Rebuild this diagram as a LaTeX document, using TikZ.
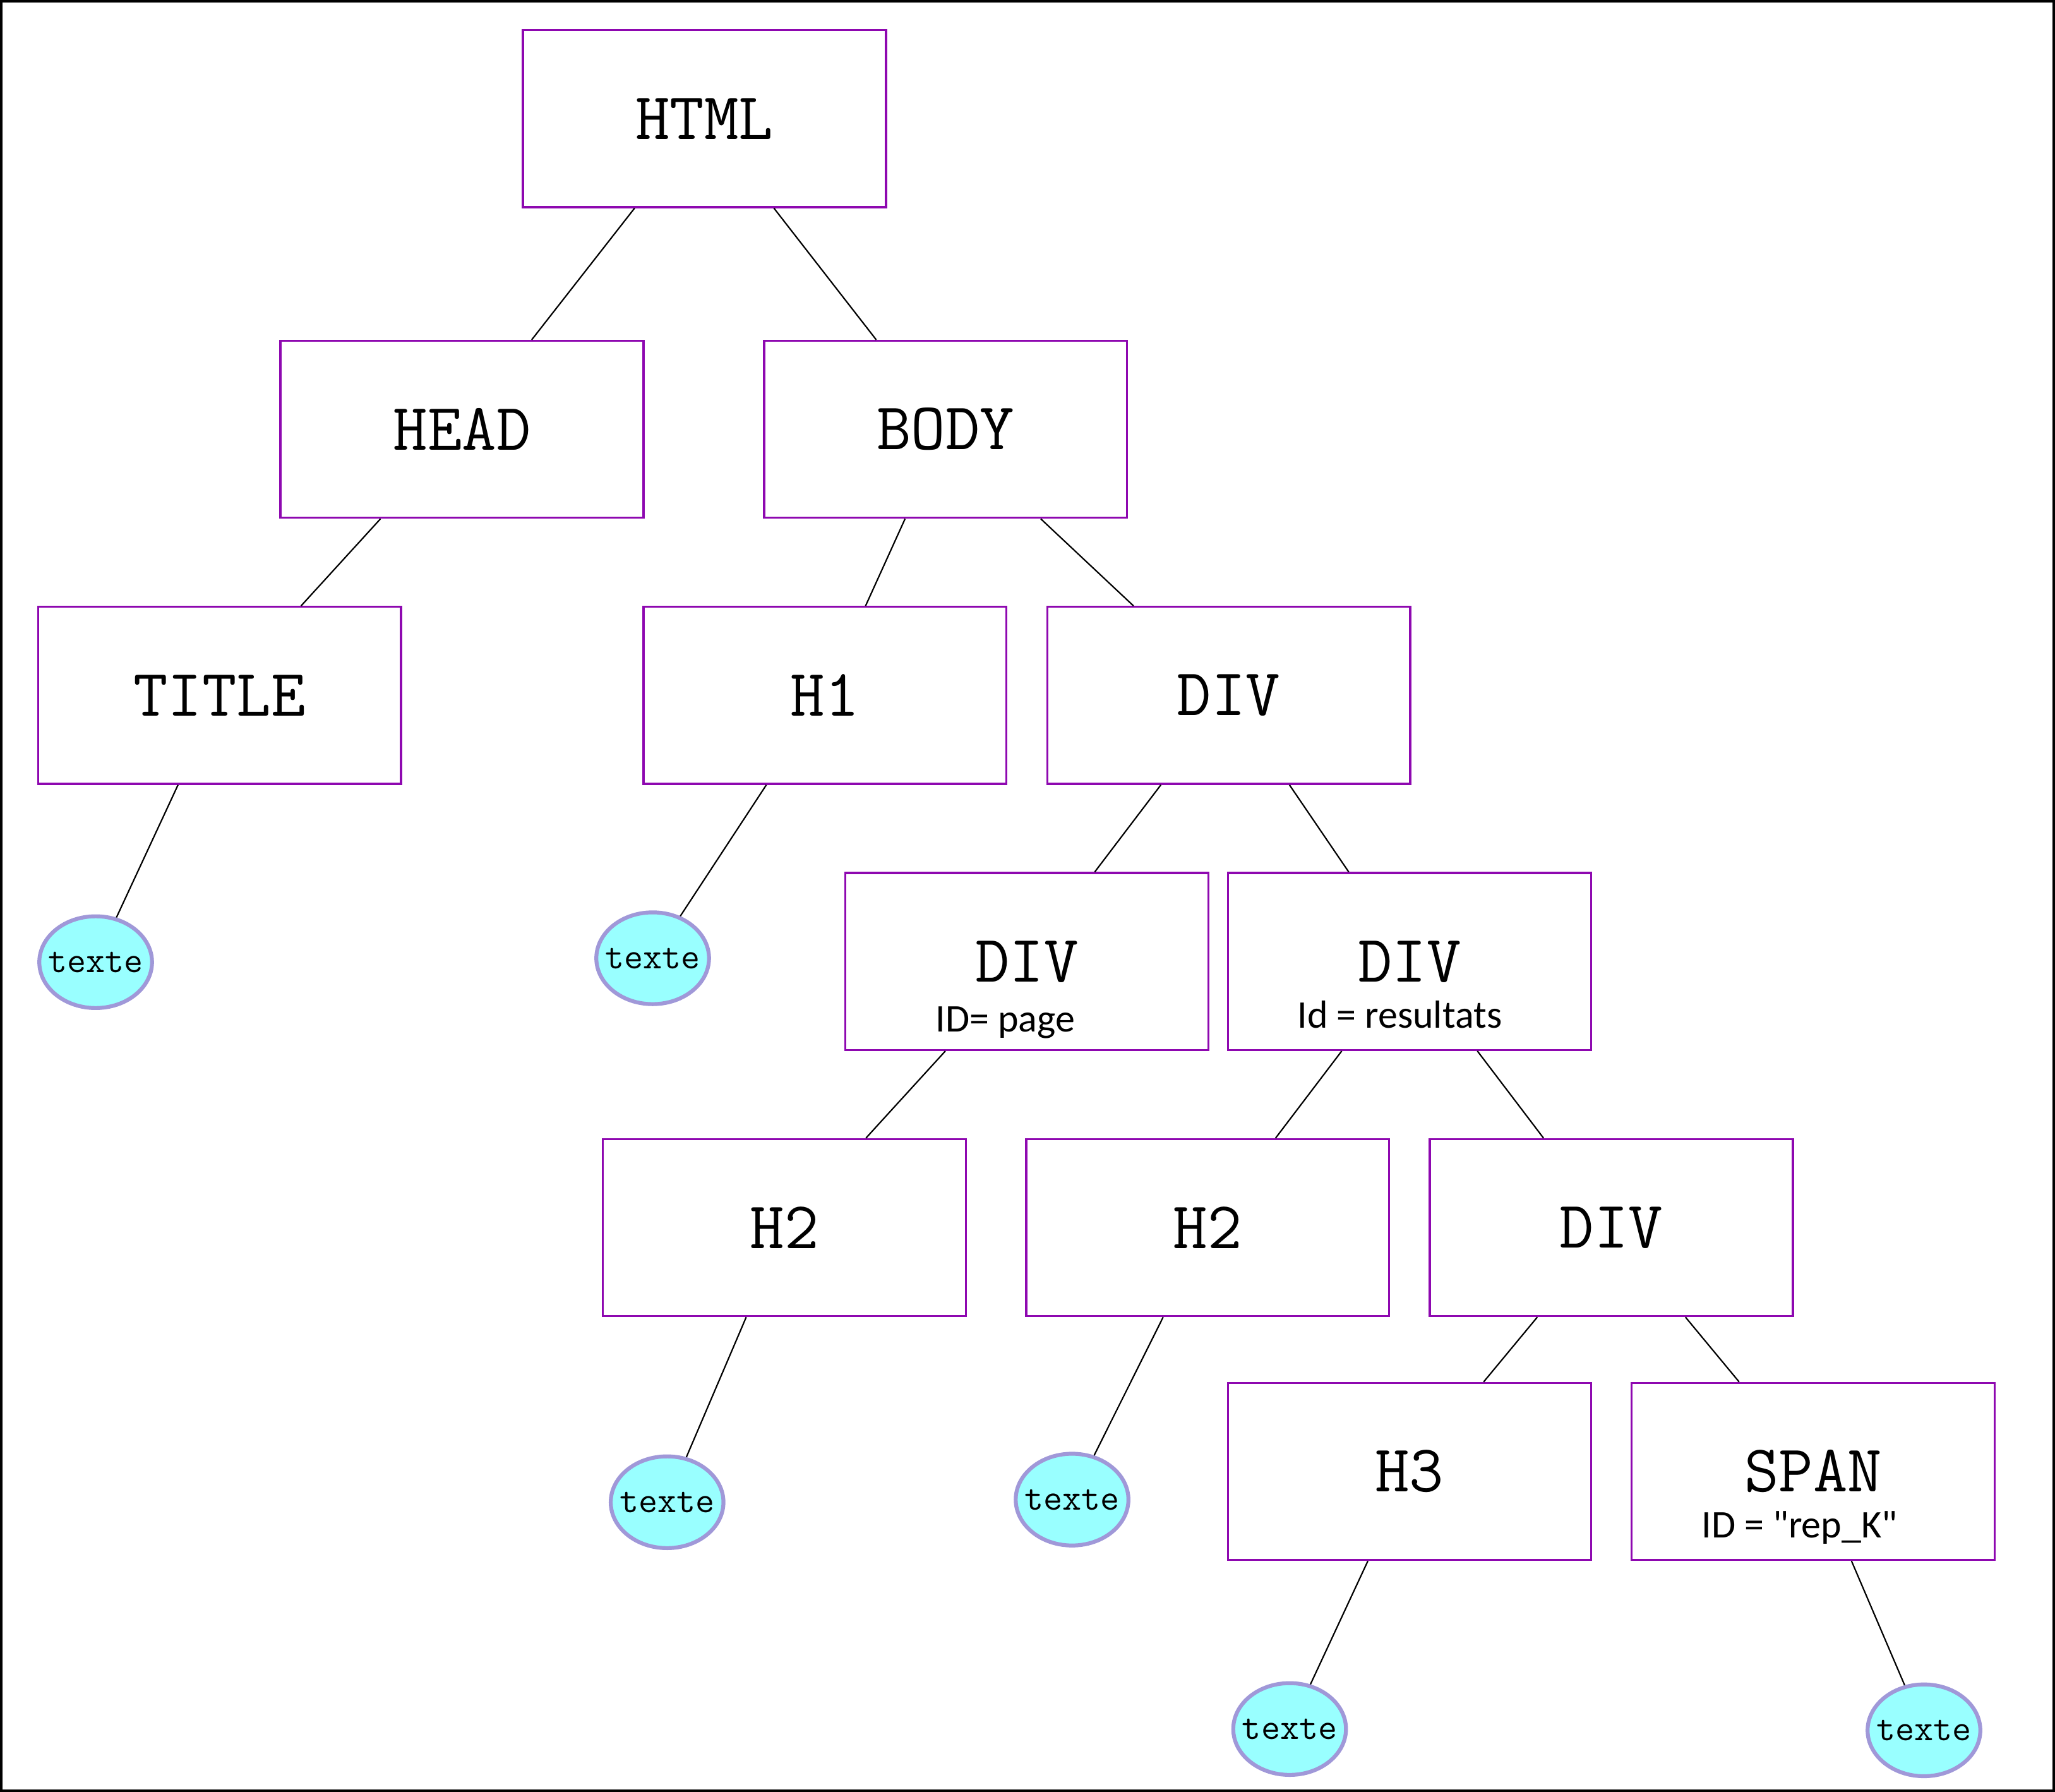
\documentclass[tikz,border=0pt]{standalone}
\usepackage{fontspec}
\newfontfamily\carlito{Carlito}
\usetikzlibrary{shapes.geometric}
\definecolor{boxviolet}{RGB}{142,8,176}
\definecolor{textefill}{RGB}{153,255,255}
\definecolor{texteline}{RGB}{160,152,216}

\begin{document}
\begin{tikzpicture}[x=0.2mm,y=-0.2mm,
    balise/.style={draw=boxviolet,line width=0.9pt,minimum width=55.4mm,minimum height=27mm,font=\fontsize{29}{31}\selectfont\ttfamily},
    texte/.style={ellipse,draw=texteline,fill=textefill,line width=1.7pt,minimum width=17.2mm,minimum height=14mm,inner sep=-1.6mm,font=\fontsize{16}{18}\selectfont\ttfamily},
    ident/.style={anchor=base,font=\fontsize{17}{20}\selectfont\carlito},
    lien/.style={line width=0.6pt}]
    \useasboundingbox (0,0) rectangle (1568,1367);
    \draw[line width=0.4mm] (1,1) rectangle (1567,1366);

    \node[balise] (html) at (537.5,90.5) {HTML};
    \node[balise] (head) at (352.5,327.5) {HEAD};
    \node[balise] (body) at (721.5,327.5) {BODY};
    \node[balise] (title) at (167.5,530.5) {TITLE};
    \node[balise] (h1) at (629.5,530.5) {H1};
    \node[balise] (div) at (937.5,530.5) {DIV};
    \node[balise] (divpage) at (783.5,733.5) {DIV};
    \node[ident] (idpage) at (767,787) {ID= page};
    \node[balise] (divres) at (1075.5,733.5) {DIV};
    \node[ident] (idres) at (1068,784) {Id = resultats};
    \node[balise] (h2a) at (598.5,936.5) {H2};
    \node[balise] (h2b) at (921.5,936.5) {H2};
    \node[balise] (divrep) at (1229.5,936.5) {DIV};
    \node[balise] (h3) at (1075.5,1122.5) {H3};
    \node[balise] (span) at (1383.5,1122.5) {SPAN};
    \node[ident] (idspan) at (1373,1173) {ID = "rep\_K"};

    \node[texte] (t1) at (73,734) {texte};
    \node[texte] (t2) at (498,731) {texte};
    \node[texte] (t3) at (509,1146) {texte};
    \node[texte] (t4) at (818,1144) {texte};
    \node[texte] (t5) at (984,1319) {texte};
    \node[texte] (t6) at (1468,1320) {texte};

    \draw[lien] (html) -- (head);
    \draw[lien] (html) -- (body);
    \draw[lien] (head) -- (title);
    \draw[lien] (body) -- (h1);
    \draw[lien] (body) -- (div);
    \draw[lien] (title) -- (t1);
    \draw[lien] (h1) -- (t2);
    \draw[lien] (div) -- (divpage);
    \draw[lien] (div) -- (divres);
    \draw[lien] (divpage) -- (h2a);
    \draw[lien] (divres) -- (h2b);
    \draw[lien] (divres) -- (divrep);
    \draw[lien] (h2a) -- (t3);
    \draw[lien] (h2b) -- (t4);
    \draw[lien] (divrep) -- (h3);
    \draw[lien] (divrep) -- (span);
    \draw[lien] (h3) -- (t5);
    \draw[lien] (span) -- (t6);
\end{tikzpicture}
\end{document}
